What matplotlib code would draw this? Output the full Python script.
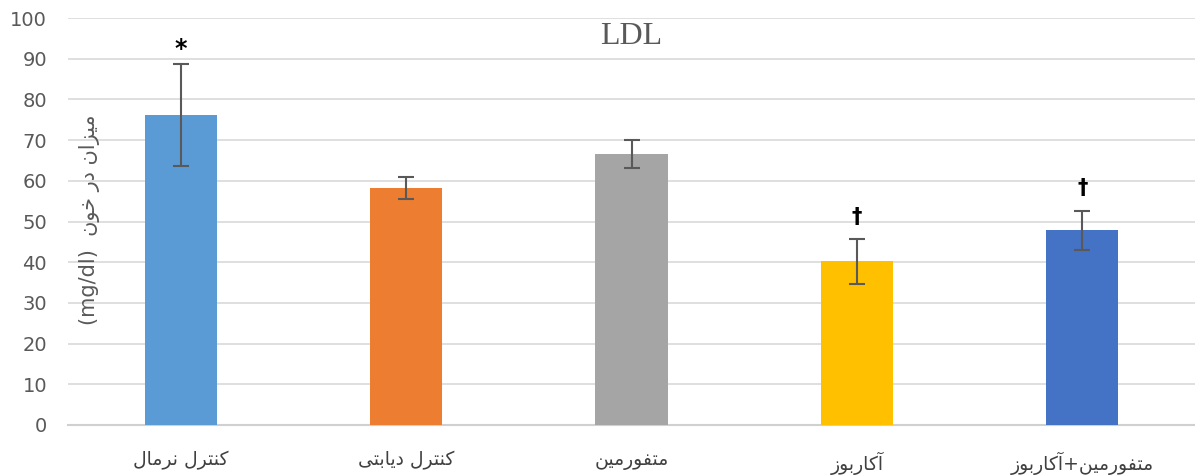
import matplotlib
matplotlib.use("Agg")
import matplotlib.pyplot as plt
import numpy as np

# ---------------- data ----------------
categories = ["کنترل نرمال", "کنترل دیابتی", "متفورمین", "آکاربوز", "متفورمین+آکاربوز"]
means = [76.2, 58.2, 66.6, 40.2, 47.8]
errors = [12.5, 2.7, 3.5, 5.5, 4.8]
markers = ["*", "", "", "†", "†"]
colors = ["#5B9BD5", "#ED7D31", "#A5A5A5", "#FFC000", "#4472C4"]
yticks = [0, 10, 20, 30, 40, 50, 60, 70, 80, 90, 100]
title = "LDL"
ylabel_fa = "میزان در خون"
ylabel_unit = "(mg/dl)"

# ---------------- minimal Persian shaping ----------------
FORMS = {  # isolated, final, initial, medial
    "\u0627": ("\uFE8D", "\uFE8E", None, None),
    "\u0622": ("\uFE81", "\uFE82", None, None),
    "\u0628": ("\uFE8F", "\uFE90", "\uFE91", "\uFE92"),
    "\u062A": ("\uFE95", "\uFE96", "\uFE97", "\uFE98"),
    "\u062E": ("\uFEA5", "\uFEA6", "\uFEA7", "\uFEA8"),
    "\u062F": ("\uFEA9", "\uFEAA", None, None),
    "\u0631": ("\uFEAD", "\uFEAE", None, None),
    "\u0632": ("\uFEAF", "\uFEB0", None, None),
    "\u0641": ("\uFED1", "\uFED2", "\uFED3", "\uFED4"),
    "\u0644": ("\uFEDD", "\uFEDE", "\uFEDF", "\uFEE0"),
    "\u0645": ("\uFEE1", "\uFEE2", "\uFEE3", "\uFEE4"),
    "\u0646": ("\uFEE5", "\uFEE6", "\uFEE7", "\uFEE8"),
    "\u0648": ("\uFEED", "\uFEEE", None, None),
    "\u06CC": ("\uFBFC", "\uFBFD", "\uFBFE", "\uFBFF"),
    "\u06A9": ("\uFB8E", "\uFB8F", "\uFB90", "\uFB91"),
}


def dual(c):
    return c in FORMS and FORMS[c][2] is not None


def shape(s):
    out = []
    for i, c in enumerate(s):
        if c not in FORMS:
            out.append(c)
            continue
        prev = s[i - 1] if i > 0 else ""
        nxt = s[i + 1] if i + 1 < len(s) else ""
        jp = dual(prev)
        jn = dual(c) and nxt in FORMS
        iso, fin, ini, med = FORMS[c]
        if jp and jn:
            out.append(med)
        elif jp:
            out.append(fin)
        elif jn:
            out.append(ini)
        else:
            out.append(iso)
    return "".join(out)


def rtl(s):
    return shape(s)[::-1]


# ---------------- plot ----------------
plt.rcParams["font.family"] = ["DejaVu Sans"]
fig = plt.figure(figsize=(11.95, 4.76), dpi=100)
ax = fig.add_axes([68 / 1195, 51 / 476, 1 - 68 / 1195, (458 - 51) / 476])

x = np.arange(len(categories))
ax.bar(x, means, width=0.32, color=colors, zorder=3)
ax.errorbar(x, means, yerr=errors, fmt="none", ecolor="#595959",
            elinewidth=1.5, capsize=6, capthick=1.5, zorder=4)

for xi, m, e, mk in zip(x, means, errors, markers):
    if mk:
        ax.annotate(mk, (xi, m + e), xytext=(0, 2 if mk == "*" else 9),
                    textcoords="offset points", ha="center", va="bottom",
                    fontsize=17 if mk == "*" else 15, fontweight="bold",
                    color="black", zorder=5)

ax.set_xlim(-0.5, len(categories) - 0.5)
ax.set_ylim(0, 100)
ax.set_yticks(yticks)
ax.yaxis.grid(True, color="#D9D9D9", linewidth=1.2, zorder=0)
ax.set_axisbelow(True)
for sp in ["top", "right", "left"]:
    ax.spines[sp].set_visible(False)
ax.spines["bottom"].set_color("#D0D0D0")
ax.spines["bottom"].set_linewidth(1.5)
ax.tick_params(axis="y", length=0, pad=15, labelsize=14, labelcolor="#595959")
ax.tick_params(axis="x", length=0, pad=19, labelsize=13.5, labelcolor="#404040")
ax.set_xticks(x)
ax.set_xticklabels([rtl(c) for c in categories])

ax.text(0.5, 0.955, title, transform=ax.transAxes, ha="center", va="center",
        fontsize=23, family="Liberation Serif", color="#595959")

fig.text(89 / 1195, 1 - 220 / 476, ylabel_unit + "  " + rtl(ylabel_fa),
         rotation=90, ha="center", va="center", fontsize=15, color="#595959")

fig.savefig("out.png", dpi=100)
